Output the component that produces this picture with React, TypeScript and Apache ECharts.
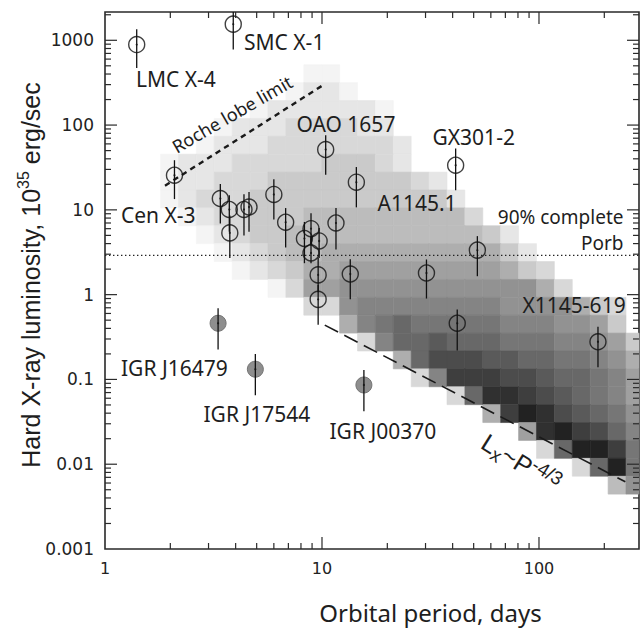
import React, { useEffect, useRef } from "react";
import * as echarts from "echarts";

// Axis extents: orbital period (days) and hard X-ray luminosity (1e35 erg/s)
const PERIOD_RANGE = [1, 289];
const LUM_RANGE = [0.001, 2156];

const PERIOD_DECADES = [1, 10, 100];
const LUM_DECADES = [0.001, 0.01, 0.1, 1, 10, 100, 1000];
const MINOR_STEPS = [2, 3, 4, 5, 6, 7, 8, 9];
const PERIOD_TICK_LABELS = ["1", "10", "100"];
const LUM_TICK_LABELS = ["0.001", "0.01", "0.1", "1", "10", "100", "1000"];

// Persistent HMXBs (open circles): period, luminosity, error bar low / high
const HMXB_PERIOD = [1.4, 3.9, 2.09, 3.4, 3.74, 3.76, 4.37, 4.61, 6.0, 6.8, 10.4, 14.4, 11.6, 8.9, 8.3, 9.7, 8.9, 9.6, 9.6, 13.5, 30.3, 52, 41.3, 42, 187];
const HMXB_LUM = [890, 1550, 25.6, 13.6, 10.1, 5.35, 10.1, 10.8, 15.2, 7.15, 51.5, 21.2, 7.0, 6.0, 4.6, 4.3, 3.1, 1.71, 0.88, 1.75, 1.8, 3.35, 33.6, 0.46, 0.278];
const HMXB_LUM_LO = [470, 780, 13.4, 6.9, 5.5, 2.7, 5.0, 5.5, 7.7, 3.6, 26, 10.7, 3.4, 3.8, 2.35, 2.7, 2.35, 1.07, 0.44, 0.88, 0.9, 1.65, 17, 0.22, 0.139];
const HMXB_LUM_HI = [1350, 2600, 38.5, 20.2, 14.9, 8.6, 15.3, 16.2, 23, 10.5, 76, 32, 10.5, 9.1, 7.2, 6.1, 4.8, 2.7, 1.3, 2.62, 2.6, 4.9, 53, 0.67, 0.417];

// Fast transients (filled grey circles)
const SFXT_PERIOD = [3.32, 4.93, 15.6];
const SFXT_LUM = [0.46, 0.132, 0.086];
const SFXT_LUM_LO = [0.226, 0.065, 0.042];
const SFXT_LUM_HI = [0.69, 0.2, 0.129];

// Reference lines
const ROCHE_LIMIT = [[1.89, 19.3], [10.1, 295]];
const POWER_LAW = [[10.3, 0.437], [250, 0.0062]];
const COMPLETENESS_LUM = 2.9;

// Simulated population density map: cells in log10 space, one hex digit per cell
// (0 = darkest, f = lightest, '.' = empty)
const MAP_LOGP_START = 0.2562;
const MAP_LOGP_STEP = 0.08249;
const MAP_LOGL_START = 2.7114;
const MAP_LOGL_STEP = 0.211;
const MAP_ROWS = [
  "........ff.................",
  ".......feef................",
  ".....feeeeeef..............",
  "...feeeddddee..............",
  "..feeeddddddde.............",
  "feeedddddcccde.............",
  "feedddccccccccde...........",
  "fedddccccccccccce..........",
  ".feddcccbbbbbbbbbd.........",
  "..fedccbbbbbbbbbbbce.......",
  "...fedcbbaaaaaaaaaace......",
  "....fedcaa999999999acd.....",
  "......fd9988888888888ad....",
  "........dd8777777778888acd.",
  "..........a76566666777889c.",
  "...........d75545556667789c",
  ".............a533344556678a",
  "..............d722233455679",
  "................d5112345679",
  "..................a20134568",
  "....................9102357",
  ".....................d50026",
  ".......................d506",
  ".........................b8",
];

const FONT = '"Noto Sans", sans-serif';
const TICK_FONT = '"DejaVu Sans", sans-serif';
const INK = "#1e1e1e";
const FRAME = "#2a2a2a";

function decadeLabel(v: number, labels: string[], offset: number) {
  const e = Math.log10(v);
  const r = Math.round(e);
  if (Math.abs(e - r) > 1e-6) return "";
  return labels[r + offset] ?? "";
}

export default function App() {
  const ref = useRef<HTMLDivElement>(null);

  useEffect(() => {
    document.body.style.margin = "0";
    const chart = echarts.init(ref.current!, undefined, { renderer: "svg" });

    const cells: number[][] = [];
    MAP_ROWS.forEach((row, j) => {
      for (let k = 0; k < row.length; k++) {
        const c = row[k];
        if (c === ".") continue;
        const lp = MAP_LOGP_START + k * MAP_LOGP_STEP;
        const ll = MAP_LOGL_START - j * MAP_LOGL_STEP;
        cells.push([
          Math.pow(10, lp + MAP_LOGP_STEP / 2),
          Math.pow(10, ll - MAP_LOGL_STEP / 2),
          Math.pow(10, lp),
          Math.pow(10, lp + MAP_LOGP_STEP),
          Math.pow(10, ll),
          Math.pow(10, ll - MAP_LOGL_STEP),
          parseInt(c, 16),
        ]);
      }
    });

    const hmxb = HMXB_PERIOD.map((p, i) => [p, HMXB_LUM[i], HMXB_LUM_LO[i], HMXB_LUM_HI[i]]);
    const sfxt = SFXT_PERIOD.map((p, i) => [p, SFXT_LUM[i], SFXT_LUM_LO[i], SFXT_LUM_HI[i]]);

    // Tick values (major decades + minor 2..9 steps) strictly inside each axis range
    const periodTicks: { v: number; len: number }[] = [];
    PERIOD_DECADES.forEach((d) => {
      [1].concat(MINOR_STEPS).forEach((m) => {
        const v = d * m;
        if (v <= PERIOD_RANGE[0] || v >= PERIOD_RANGE[1]) return;
        periodTicks.push({ v, len: m === 1 ? 12 : 6 });
      });
    });
    const lumTicks: { v: number; len: number }[] = [];
    LUM_DECADES.forEach((d) => {
      [1].concat(MINOR_STEPS).forEach((m) => {
        const v = d * m;
        if (v <= LUM_RANGE[0] || v >= LUM_RANGE[1]) return;
        lumTicks.push({ v, len: m === 1 ? 12 : 6 });
      });
    });

    const errorBarItem = (params: any, api: any) => {
      const cs = params.coordSys;
      const lo = api.coord([api.value(0), api.value(2)]);
      const hi = api.coord([api.value(0), api.value(3)]);
      return {
        type: "line",
        shape: {
          x1: lo[0],
          y1: Math.min(lo[1], cs.y + cs.height),
          x2: lo[0],
          y2: Math.max(hi[1], cs.y),
        },
        style: { stroke: "#111", lineWidth: 1.3 },
      };
    };

    const label = (text: string, x: number, y: number, align = "left", size = 21) => ({
      type: "text",
      x,
      y,
      z: 100,
      style: {
        text,
        font: `${size}px ${FONT}`,
        fill: INK,
        align,
        verticalAlign: "middle",
      },
    });

    const texts: any[] = [
      label("LMC X-4", 136, 78.5),
      label("SMC X-1", 244, 41.5),
      label("OAO 1657", 296.5, 124),
      label("GX301-2", 432.5, 136.5),
      label("Cen X-3", 121, 215),
      label("A1145.1", 377.5, 203),
      label("X1145-619", 522.5, 305),
      label("IGR J16479", 121, 368),
      label("IGR J17544", 203.5, 414),
      label("IGR J00370", 329.5, 430.5),
      label("90% complete", 623.5, 217, "right", 19),
      label("Porb", 623.5, 242.5, "right", 19),
      {
        type: "text",
        x: 232,
        y: 114,
        rotation: (30 * Math.PI) / 180,
        z: 100,
        style: {
          text: "Roche lobe limit",
          font: `18px ${FONT}`,
          fill: INK,
          align: "center",
          verticalAlign: "middle",
        },
      },
      {
        type: "text",
        x: 521,
        y: 463,
        rotation: (-32 * Math.PI) / 180,
        z: 100,
        style: {
          text: "{n|L}{sub|x}{n|~P}{sup|-4/3}",
          font: `25px ${FONT}`,
          fill: INK,
          align: "center",
          verticalAlign: "middle",
          rich: {
            n: { font: `25px ${FONT}`, fontSize: 25, lineHeight: 32, fill: INK },
            sub: { font: `19px ${FONT}`, fontSize: 19, lineHeight: 14, verticalAlign: "bottom", fill: INK },
            sup: { font: `19px ${FONT}`, fontSize: 19, lineHeight: 14, verticalAlign: "top", fill: INK },
          },
        },
      },
      {
        type: "text",
        x: 31,
        y: 275,
        rotation: Math.PI / 2,
        z: 100,
        style: {
          text: "{n|Hard X-ray luminosity, 10}{sup|35}{n| erg/sec}",
          font: `25px ${FONT}`,
          fill: INK,
          align: "center",
          verticalAlign: "middle",
          rich: {
            n: { font: `25px ${FONT}`, fontSize: 25, lineHeight: 32, fill: INK },
            sup: { font: `16px ${FONT}`, fontSize: 16, lineHeight: 12, verticalAlign: "top", fill: INK },
          },
        },
      },
      {
        type: "text",
        x: 430.5,
        y: 612,
        z: 100,
        style: {
          text: "Orbital period, days",
          font: `24px ${FONT}`,
          fill: INK,
          align: "center",
          verticalAlign: "middle",
        },
      },
    ];

    chart.setOption({
      animation: false,
      backgroundColor: "#fff",
      grid: {
        left: 105,
        top: 12,
        right: 4,
        bottom: 84,
        show: true,
        borderColor: FRAME,
        borderWidth: 1.6,
        outerBoundsMode: "none",
      },
      xAxis: {
        type: "log",
        logBase: 10,
        min: PERIOD_RANGE[0],
        max: PERIOD_RANGE[1],
        axisLine: { show: false },
        axisTick: { show: false },
        splitLine: { show: false },
        axisLabel: {
          margin: 11,
          fontFamily: TICK_FONT,
          fontSize: 16,
          color: "#222",
          formatter: (v: number) => decadeLabel(v, PERIOD_TICK_LABELS, 0),
        },
      },
      yAxis: {
        type: "log",
        logBase: 10,
        min: LUM_RANGE[0],
        max: LUM_RANGE[1],
        axisLine: { show: false },
        axisTick: { show: false },
        splitLine: { show: false },
        axisLabel: {
          margin: 11,
          fontFamily: TICK_FONT,
          fontSize: 17,
          color: "#222",
          formatter: (v: number) => decadeLabel(v, LUM_TICK_LABELS, 3),
        },
      },
      series: [
        {
          type: "custom",
          z: 1,
          silent: true,
          data: cells,
          encode: { x: 0, y: 1 },
          renderItem: (params: any, api: any) => {
            const a = api.coord([api.value(2), api.value(4)]);
            const b = api.coord([api.value(3), api.value(5)]);
            const cs = params.coordSys;
            const rect = echarts.graphic.clipRectByRect(
              { x: a[0], y: a[1], width: b[0] - a[0], height: b[1] - a[1] },
              { x: cs.x, y: cs.y, width: cs.width, height: cs.height }
            );
            if (!rect) return null;
            const g = Math.round(34 + api.value(6) * 14);
            const fill = `rgb(${g},${g},${g})`;
            return { type: "rect", shape: rect, style: { fill, stroke: fill, lineWidth: 0.6 } };
          },
        },
        {
          type: "line",
          z: 2,
          silent: true,
          symbol: "none",
          data: [[PERIOD_RANGE[0], COMPLETENESS_LUM], [PERIOD_RANGE[1], COMPLETENESS_LUM]],
          lineStyle: { color: "#222", width: 1.3, type: [1.4, 2.6] },
        },
        {
          type: "line",
          z: 3,
          silent: true,
          symbol: "none",
          data: ROCHE_LIMIT,
          lineStyle: { color: "#1a1a1a", width: 2.4, type: [5.5, 4.5] },
        },
        {
          type: "line",
          z: 3,
          silent: true,
          symbol: "none",
          data: POWER_LAW,
          lineStyle: { color: "#1a1a1a", width: 1.6, type: [15, 7] },
        },
        {
          type: "scatter",
          z: 4,
          silent: true,
          data: sfxt.map((d) => [d[0], d[1]]),
          symbol: "circle",
          symbolSize: 16,
          itemStyle: { color: "#8e8e8e", borderColor: "#747474", borderWidth: 1, opacity: 1 },
        },
        {
          type: "custom",
          z: 5,
          silent: true,
          data: hmxb.concat(sfxt),
          encode: { x: 0, y: 1 },
          renderItem: errorBarItem,
        },
        {
          type: "scatter",
          z: 6,
          silent: true,
          data: hmxb.map((d) => [d[0], d[1]]),
          symbol: "circle",
          symbolSize: 16,
          itemStyle: { color: "rgba(0,0,0,0)", borderColor: "#111", borderWidth: 1.4 },
        },
        {
          type: "scatter",
          z: 7,
          silent: true,
          data: hmxb.concat(sfxt).map((d) => [d[0], d[1]]),
          symbol: "circle",
          symbolSize: 2.2,
          itemStyle: { color: "#111" },
        },
      ],
      graphic: texts,
    });

    // Inward tick marks on all four sides, placed through the axes' own scales
    const toPx = (p: number, l: number) =>
      chart.convertToPixel({ gridIndex: 0 }, [p, l]) as unknown as number[];
    const left = toPx(PERIOD_RANGE[0], 1)[0];
    const right = toPx(PERIOD_RANGE[1], 1)[0];
    const top = toPx(10, LUM_RANGE[1])[1];
    const bottom = toPx(10, LUM_RANGE[0])[1];
    const tickStyle = { stroke: FRAME, lineWidth: 1.2 };
    const tickLines: any[] = [];
    periodTicks.forEach(({ v, len }) => {
      const x = toPx(v, 1)[0];
      tickLines.push({ type: "line", z: 90, silent: true, shape: { x1: x, y1: bottom, x2: x, y2: bottom - len }, style: tickStyle });
      tickLines.push({ type: "line", z: 90, silent: true, shape: { x1: x, y1: top, x2: x, y2: top + len }, style: tickStyle });
    });
    lumTicks.forEach(({ v, len }) => {
      const y = toPx(10, v)[1];
      tickLines.push({ type: "line", z: 90, silent: true, shape: { x1: left, y1: y, x2: left + len, y2: y }, style: tickStyle });
      tickLines.push({ type: "line", z: 90, silent: true, shape: { x1: right, y1: y, x2: right - len, y2: y }, style: tickStyle });
    });
    chart.setOption({ graphic: texts.concat(tickLines) });

    return () => chart.dispose();
  }, []);

  return <div ref={ref} style={{ width: 643, height: 633 }} />;
}
